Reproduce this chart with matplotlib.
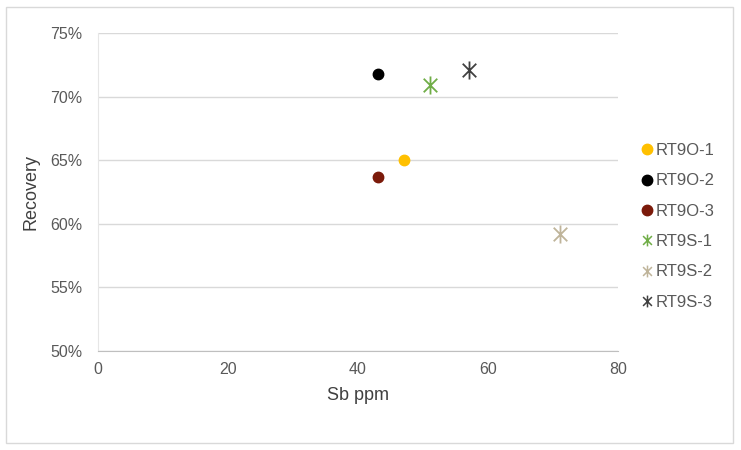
import matplotlib
matplotlib.use("Agg")
import matplotlib.pyplot as plt
from matplotlib.path import Path
from matplotlib.ticker import PercentFormatter
from matplotlib.patches import Rectangle

plt.rcParams['font.family'] = ['Liberation Sans', 'DejaVu Sans']

names = ["RT9O-1", "RT9O-2", "RT9O-3", "RT9S-1", "RT9S-2", "RT9S-3"]
sb_ppm = [47, 43, 43, 51, 71, 57]
recovery = [65.0, 71.8, 63.7, 70.9, 59.2, 72.1]
colors = ["#FFC000", "#000000", "#7B1A0A", "#70AD47", "#BFB49A", "#404040"]
markers_kind = ["dot", "dot", "dot", "star", "star", "star"]

star = Path([(0, -1), (0, 1), (-0.75, -0.75), (0.75, 0.75), (-0.75, 0.75), (0.75, -0.75)],
            [Path.MOVETO, Path.LINETO, Path.MOVETO, Path.LINETO, Path.MOVETO, Path.LINETO])

fig = plt.figure(figsize=(7.41, 4.5), dpi=100)
fig.patches.append(Rectangle((6/741, 7/450), 727/741, 436/450, transform=fig.transFigure,
                             fill=False, edgecolor="#D9D9D9", linewidth=1))
ax = fig.add_axes([98/741, 1 - 351/450, 520/741, 318/450])

for n, x, y, c, k in zip(names, sb_ppm, recovery, colors, markers_kind):
    if k == "dot":
        ax.plot(x, y, linestyle="none", marker="o", markersize=7.5, color=c, label=n, zorder=3)
    else:
        ax.plot(x, y, linestyle="none", marker=star, markersize=13, markeredgewidth=1.3,
                color=c, markeredgecolor=c, label=n, zorder=3)

ax.set_xlim(0, 80)
ax.set_ylim(50, 75)
ax.set_xticks([0, 20, 40, 60, 80])
ax.set_yticks([50, 55, 60, 65, 70, 75])
ax.yaxis.set_major_formatter(PercentFormatter(decimals=0))
ax.grid(axis="y", color="#D9D9D9", linewidth=1)
ax.set_axisbelow(True)
for s in ["top", "right"]:
    ax.spines[s].set_visible(False)
ax.spines["bottom"].set_color("#BFBFBF")
ax.spines["left"].set_color("#E6E6E6")
ax.tick_params(axis="both", length=0, colors="#595959", labelsize=11.5)
ax.tick_params(axis="x", pad=8)
ax.tick_params(axis="y", pad=11)
ax.set_xlabel("Sb ppm", fontsize=13, color="#404040", labelpad=7)
ax.set_ylabel("Recovery", fontsize=13, color="#404040", labelpad=8)

leg = fig.legend(loc="upper left", bbox_to_anchor=(626/741, 1 - 128/450), frameon=False,
                 fontsize=12, labelcolor="#595959", handlelength=0.7, handletextpad=0.15,
                 labelspacing=0.92)
for h, k in zip(leg.legend_handles, markers_kind):
    if k == "dot":
        h.set_markersize(7.5)
    else:
        h.set_markersize(8.5)
        h.set_markeredgewidth(1.1)

fig.savefig("out.png", dpi=100)
